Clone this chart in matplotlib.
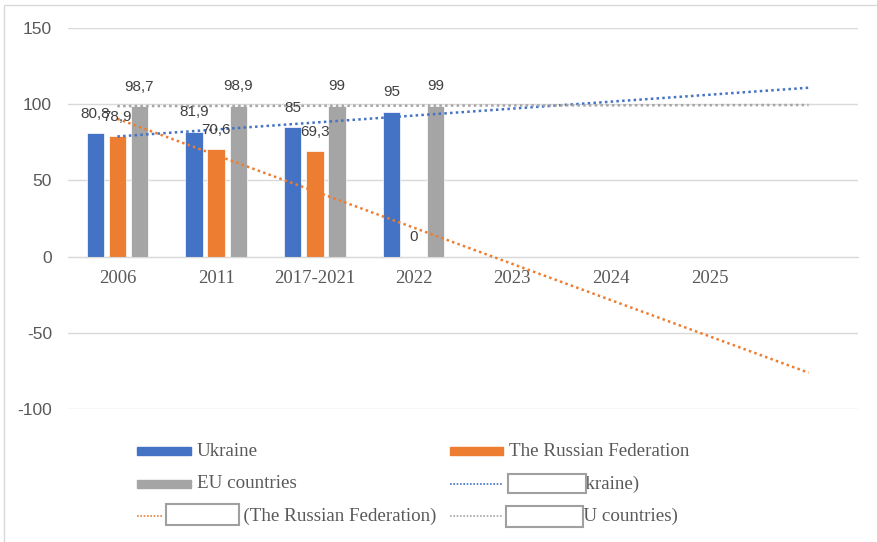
import numpy as np
import matplotlib
matplotlib.use("Agg")
import matplotlib.pyplot as plt
from matplotlib.patches import Rectangle
from matplotlib.lines import Line2D

plt.rcParams["axes.unicode_minus"] = False

# data
categories = ["2006", "2011", "2017-2021", "2022", "2023", "2024", "2025", ""]
ukraine = [80.8, 81.9, 85, 95]
russia = [78.9, 70.6, 69.3, 0]
eu = [98.7, 98.9, 99, 99]
series_names = ["Ukraine", "The Russian Federation", "EU countries"]
trend_names = ["Linear (Ukraine)", "Linear (The Russian Federation)", "Linear (EU countries)"]

colors = ["#4472C4", "#ED7D31", "#A5A5A5"]
W, H = 877, 542

def fx(px):
    return px / W

def fy(py):
    return 1 - py / H

def fmt(v):
    s = ("%g" % v)
    return s.replace(".", ",")

fig = plt.figure(figsize=(W / 100, H / 100), dpi=100)
ax = fig.add_axes([fx(68), fy(409), fx(858) - fx(68), fy(28) - fy(409)])

# move category axis to zero first (this resets the x ticks)
for s in ["top", "right", "left"]:
    ax.spines[s].set_visible(False)
ax.spines["bottom"].set_position(("data", 0))
ax.spines["bottom"].set_color("#D9D9D9")

x = np.arange(len(categories))
bw = 0.175
off = 0.223
all_series = [ukraine, russia, eu]
for i, vals in enumerate(all_series):
    xs = np.arange(len(vals)) + (i - 1) * off
    ax.bar(xs, vals, width=bw, color=colors[i], edgecolor="white", linewidth=0.5, zorder=2)
    for xx, v in zip(xs, vals):
        ax.annotate(fmt(v), (xx, v), xytext=(0, 14), textcoords="offset points",
                    ha="center", va="center", fontsize=11, color="#404040",
                    family="Liberation Sans", zorder=5)

# linear trendlines, forecast forward to the last slot
xt = np.array([0, len(categories) - 1])
for i, vals in enumerate(all_series):
    k, b = np.polyfit(np.arange(len(vals)), vals, 1)
    ax.plot(xt, k * xt + b, color=colors[i], linestyle=(0, (1, 1.3)), linewidth=1.8, zorder=3)

ax.set_xlim(-0.5, len(categories) - 0.5)
ax.set_ylim(-100, 150)
ax.set_yticks([-100, -50, 0, 50, 100, 150])
ax.set_xticks(x)
ax.set_xticklabels(categories, family="Liberation Serif", fontsize=13.5, color="#595959")
for t in ax.get_yticklabels():
    t.set_family("Liberation Sans")
    t.set_fontsize(12.5)
    t.set_color("#595959")
ax.tick_params(axis="x", length=0, pad=10)
ax.tick_params(axis="y", length=0, pad=11.5)
ax.grid(axis="y", color="#D9D9D9", linewidth=1, zorder=0)
ax.set_axisbelow(True)

# legend drawn by hand (excel layout)
leg_font = dict(family="Liberation Serif", fontsize=13.7, color="#595959", va="center", ha="left")
rows = [451, 484, 516]
# bar entries
entries = [(137, 191, rows[0], 0), (450, 503, rows[0], 1), (137, 191, rows[1], 2)]
for x0, x1, yy, i in entries:
    fig.patches.append(Rectangle((fx(x0), fy(yy + 4)), fx(x1) - fx(x0), fy(yy - 4) - fy(yy + 4),
                                 transform=fig.transFigure, color=colors[i]))
    fig.text(fx(x1 + 6), fy(yy), series_names[i], **leg_font)
# trendline entries
tr_entries = [(450, 503, rows[1], 0, 511), (137, 163, rows[2], 1, 189), (450, 503, rows[2], 2, 511)]
for x0, x1, yy, i, tx in tr_entries:
    fig.lines.append(Line2D([fx(x0), fx(x1)], [fy(yy), fy(yy)], transform=fig.transFigure,
                            color=colors[i], linestyle=(0, (1, 1)), linewidth=1.2))
    fig.text(fx(tx), fy(yy), trend_names[i], **leg_font)

# the white boxes covering part of the labels
boxes = [(508, 474, 586, 493), (166, 504, 239, 525), (506, 506, 583, 527)]
for x0, y0, x1, y1 in boxes:
    fig.patches.append(Rectangle((fx(x0), fy(y1)), fx(x1) - fx(x0), fy(y0) - fy(y1),
                                 transform=fig.transFigure, facecolor="white",
                                 edgecolor="#A0A0A0", linewidth=1.5, zorder=10))

# chart border (only top/left visible)
fig.patches.append(Rectangle((fx(4), fy(560)), fx(900), fy(5) - fy(560), transform=fig.transFigure,
                             fill=False, edgecolor="#D9D9D9", linewidth=1))

fig.savefig("out.png", dpi=100)
